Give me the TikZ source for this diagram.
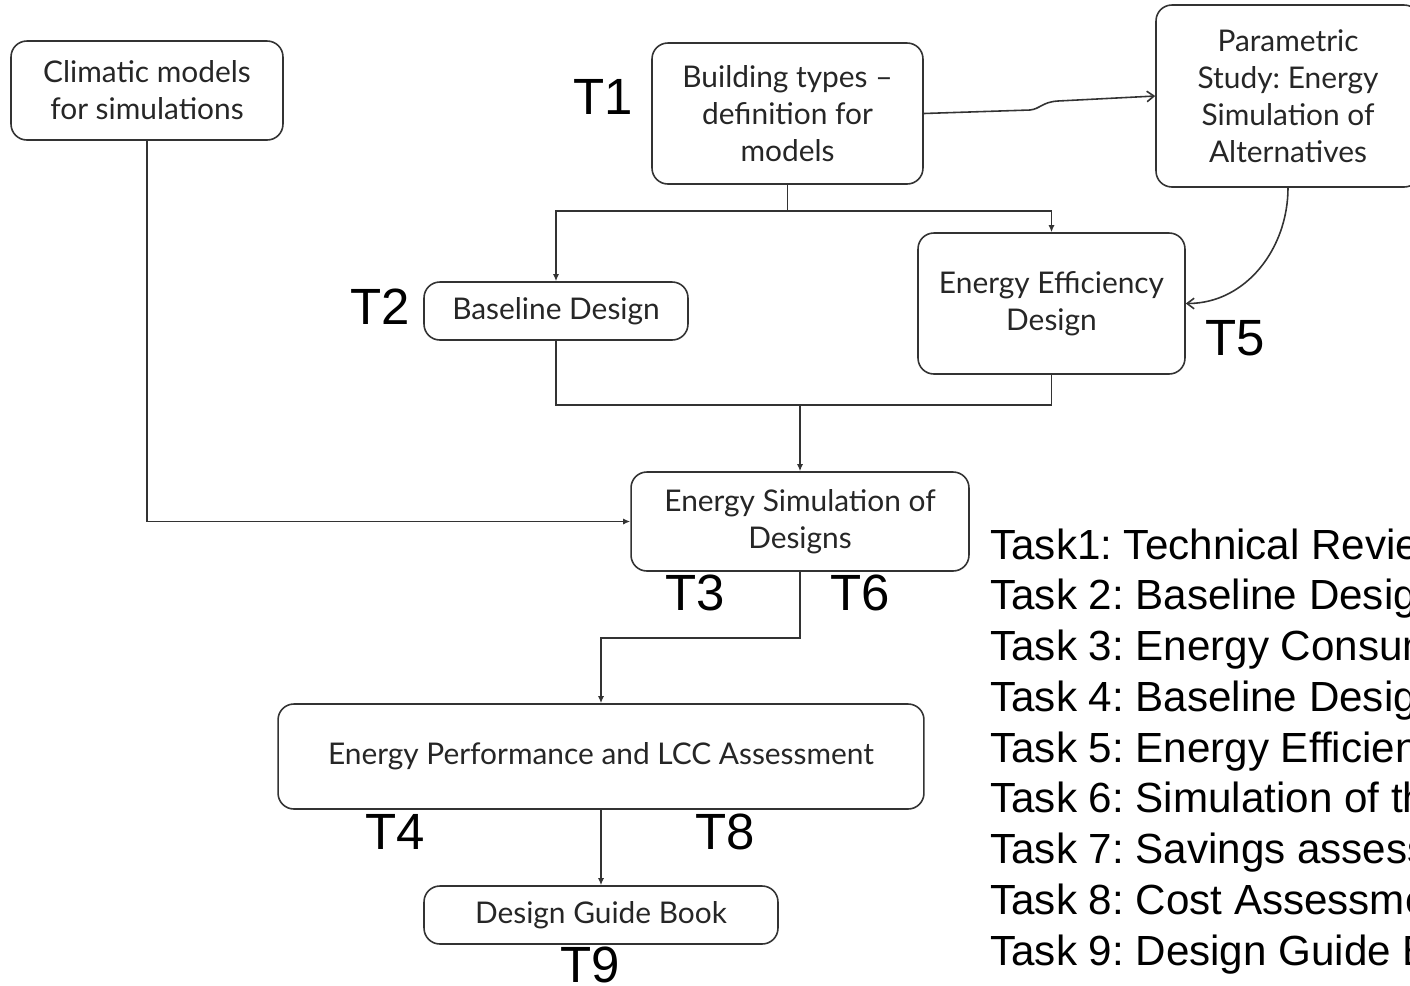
\documentclass[tikz,border=0pt]{standalone}
\usepackage{fontspec}
\setmainfont{Liberation Sans}
\newfontfamily\boxfont{Lato}
\usetikzlibrary{arrows.meta}
\frenchspacing

\begin{document}
\begin{tikzpicture}[
    x=0.02cm, y=-0.02cm,
    box/.style={draw=black!80, line width=0.9pt, rounded corners=9pt, align=center,
        inner sep=0pt, text=black!85, font=\boxfont\fontsize{17}{21}\selectfont},
    tlabel/.style={font=\fontsize{29}{32}\selectfont},
    tasktext/.style={anchor=base west, inner sep=0pt, font=\fontsize{24}{29}\selectfont},
    link/.style={line width=0.9pt, draw=black!80, -{Latex[length=4pt,width=3.5pt]}},
    bent/.style={line width=0.9pt, draw=black!80, -{Straight Barb[length=4pt,width=6pt]}}
]
    \useasboundingbox (0,0) rectangle (1410,985);

    % boxes
    \node[box, minimum width=5.44cm, minimum height=1.98cm] (climate) at (147,90.5) {Climatic models\\for simulations};
    \node[box, minimum width=5.42cm, minimum height=2.82cm] (types) at (787.5,113.5) {Building types \textendash\\definition for\\models};
    \node[box, minimum width=5.28cm, minimum height=3.64cm] (param) at (1288,96) {Parametric\\Study: Energy\\Simulation of\\Alternatives};
    \node[box, minimum width=5.28cm, minimum height=1.16cm] (baseline) at (556,311) {Baseline Design};
    \node[box, minimum width=5.34cm, minimum height=2.82cm] (effic) at (1051.5,303.5) {Energy Efficiency\\Design};
    \node[box, minimum width=6.76cm, minimum height=1.98cm] (esim) at (800,521.5) {Energy Simulation of\\Designs};
    \node[box, minimum width=12.92cm, minimum height=2.1cm] (perf) at (601,756.5) {Energy Performance and LCC Assessment};
    \node[box, minimum width=7.08cm, minimum height=1.16cm] (guide) at (601,915) {Design Guide Book};

    % task tags
    \node[tlabel] (t1) at (603,97) {T1};
    \node[tlabel] (t2) at (380,307) {T2};
    \node[tlabel] (t5) at (1235,338) {T5};
    \node[tlabel] (t3) at (695,593) {T3};
    \node[tlabel] (t6) at (860,593) {T6};
    \node[tlabel] (t4) at (395,832) {T4};
    \node[tlabel] (t8) at (725,832) {T8};
    \node[tlabel] (t9) at (590,965) {T9};

    % connectors
    \coordinate (join) at (800,405);
    \draw[link] (types.south) -- ++(0,26) -| (baseline.north);
    \draw[link] (types.south) -- ++(0,26) -| (effic.north);
    \draw[bent] (types.east) -- (1030,110) .. controls (1040,109) and (1042,102) .. (1058,101) -- (param.west);
    \draw[bent] (param.south) to[out=-90, in=0] (effic.east);
    \draw[line width=0.9pt, draw=black!80] (baseline.south) |- (join) -| (effic.south);
    \draw[link] (join) -- (esim.north);
    \draw[link] (climate.south) |- (esim.west);
    \draw[link] (esim.south) -- ++(0,66) -| (perf.north);
    \draw[link] (perf.south) -- (guide.north);

    % task list
    \foreach \txt [count=\i] in {Task1: Technical Review, Task 2: Baseline Design,
        Task 3: Energy Consumption, Task 4: Baseline Design, Task 5: Energy Efficiency,
        Task 6: Simulation of the, Task 7: Savings assessment, Task 8: Cost Assessment,
        Task 9: Design Guide Book}
        \node[tasktext] (task\i) at (990,{559+50.75*(\i-1)}) {\txt};
\end{tikzpicture}
\end{document}
